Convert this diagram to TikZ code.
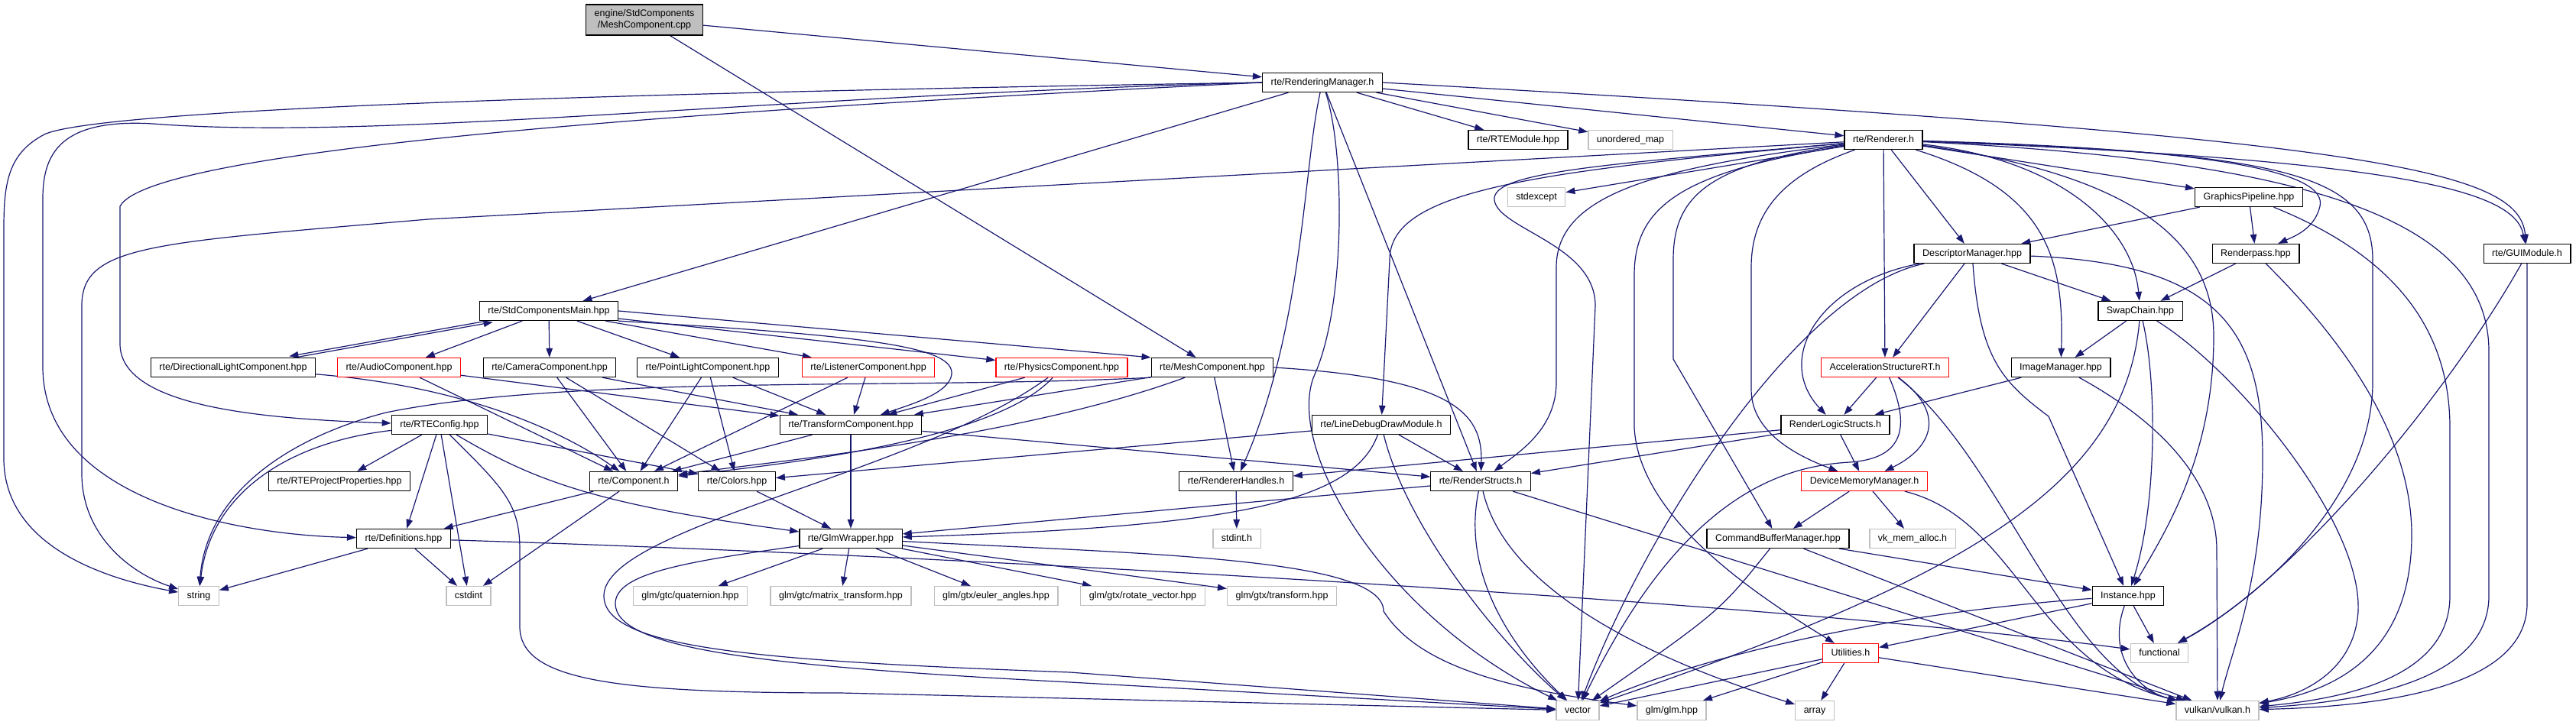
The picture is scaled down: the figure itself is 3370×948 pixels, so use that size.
\documentclass[tikz,border=0pt]{standalone}
\usepackage{fontspec}
\setmainfont{Liberation Sans}
\usepackage{tikz}
\usetikzlibrary{arrows.meta,backgrounds}
\definecolor{depblue}{HTML}{191970}
\definecolor{extgrey}{HTML}{BFBFBF}
\definecolor{cutred}{HTML}{FF0000}
\tikzset{
  filebox/.style={
    draw=black,
    line width=1.3pt,
    fill=white,
    minimum height=25pt,
    inner xsep=11pt,
    inner ysep=0pt,
    text height=9pt,
    text depth=2.5pt,
    font=\fontsize{12.5}{15}\selectfont
  },
  sysbox/.style={filebox, draw=extgrey},
  cutbox/.style={filebox, draw=cutred},
  rootbox/.style={
    draw=black,
    line width=1.3pt,
    fill=extgrey,
    minimum height=40pt,
    inner xsep=11pt,
    inner ysep=2pt,
    align=center,
    font=\fontsize{12.5}{15}\selectfont
  },
  dep/.style={
    -{Triangle[length=12pt,width=8.5pt]},
    line width=1.2pt,
    draw=depblue
  }
}

\begin{document}
\begin{tikzpicture}[x=1pt,y=-1pt]
\useasboundingbox (0,0) rectangle (3370,948);
\node[rootbox] (src) at (843,26) {engine/StdComponents\\/MeshComponent.cpp};
\node[filebox] (rm) at (1730,108) {rte/RenderingManager.h};
\node[filebox] (rtemod) at (1986,183) {rte/RTEModule.hpp};
\node[sysbox] (umap) at (2133,183) {unordered\_map};
\node[filebox] (rend) at (2464,183) {rte/Renderer.h};
\node[sysbox] (stdexc) at (2010,258) {stdexcept};
\node[filebox] (gpipe) at (2942,258) {GraphicsPipeline.hpp};
\node[filebox] (descm) at (2580,332) {DescriptorManager.hpp};
\node[filebox] (rpass) at (2951,332) {Renderpass.hpp};
\node[filebox] (gui) at (3306,332) {rte/GUIModule.h};
\node[filebox] (scm) at (718,407) {rte/StdComponentsMain.hpp};
\node[filebox] (swap) at (2800,407) {SwapChain.hpp};
\node[filebox] (dirlight) at (305,481) {rte/DirectionalLightComponent.hpp};
\node[cutbox] (audio) at (522,481) {rte/AudioComponent.hpp};
\node[filebox] (camera) at (719,481) {rte/CameraComponent.hpp};
\node[filebox] (ptlight) at (926,481) {rte/PointLightComponent.hpp};
\node[cutbox] (listener) at (1136,481) {rte/ListenerComponent.hpp};
\node[cutbox] (physics) at (1389,481) {rte/PhysicsComponent.hpp};
\node[filebox] (mesh) at (1586,481) {rte/MeshComponent.hpp};
\node[cutbox] (asrt) at (2466,481) {AccelerationStructureRT.h};
\node[filebox] (imgm) at (2696,481) {ImageManager.hpp};
\node[filebox] (rtecfg) at (575,556) {rte/RTEConfig.hpp};
\node[filebox] (transf) at (1113,556) {rte/TransformComponent.hpp};
\node[filebox] (lddm) at (1807,556) {rte/LineDebugDrawModule.h};
\node[filebox] (rls) at (2401,556) {RenderLogicStructs.h};
\node[filebox] (rteprops) at (444,630) {rte/RTEProjectProperties.hpp};
\node[filebox] (comp) at (829,630) {rte/Component.h};
\node[filebox] (colors) at (964,630) {rte/Colors.hpp};
\node[filebox] (rhandles) at (1617,630) {rte/RendererHandles.h};
\node[filebox] (rstructs) at (1937,630) {rte/RenderStructs.h};
\node[cutbox] (dmm) at (2439,630) {DeviceMemoryManager.h};
\node[filebox] (defs) at (528,705) {rte/Definitions.hpp};
\node[filebox] (glmw) at (1113,705) {rte/GlmWrapper.hpp};
\node[sysbox] (stdinth) at (1618,705) {stdint.h};
\node[filebox] (cbm) at (2326,705) {CommandBufferManager.hpp};
\node[sysbox] (vma) at (2502,705) {vk\_mem\_alloc.h};
\node[sysbox] (string) at (260,780) {string};
\node[sysbox] (cstdint) at (613,780) {cstdint};
\node[sysbox] (quat) at (903,780) {glm/gtc/quaternion.hpp};
\node[sysbox] (mattr) at (1100,780) {glm/gtc/matrix\_transform.hpp};
\node[sysbox] (euler) at (1303,780) {glm/gtx/euler\_angles.hpp};
\node[sysbox] (rotvec) at (1495,780) {glm/gtx/rotate\_vector.hpp};
\node[sysbox] (gtxtr) at (1677,780) {glm/gtx/transform.hpp};
\node[filebox] (inst) at (2784,780) {Instance.hpp};
\node[cutbox] (utils) at (2421,855) {Utilities.h};
\node[sysbox] (func) at (2825,855) {functional};
\node[sysbox] (vector) at (2064,930) {vector};
\node[sysbox] (glm) at (2187,930) {glm/glm.hpp};
\node[sysbox] (array) at (2374,930) {array};
\node[sysbox] (vulkan) at (2901,930) {vulkan/vulkan.h};

\begin{scope}[on background layer]
\fill[white] (0,0) rectangle (3370,948);
\draw[dep] (src) -- (rm);
\draw[dep] (src) -- (mesh);

\draw[dep] (rm) -- (rtemod);
\draw[dep] (rm) -- (umap);
\draw[dep] (rm) -- (rend);
\draw[dep] (rm) -- (scm);
\draw[dep] (rm) -- (rstructs);
\draw[dep] (rm.east) .. controls (3100,180) and (3295,220) .. (gui);
\draw[dep] (rm.west) .. controls (900,120) and (150,140) .. (60,175) .. controls (10,200) and (5,240) .. (5,300) -- (5,600) .. controls (5,720) and (150,760) .. (string);
\draw[dep] (rm.west) .. controls (1000,125) and (500,185) .. (200,162) .. controls (80,155) and (56,200) .. (56,260) -- (56,480) .. controls (56,650) and (300,700) .. (defs);
\draw[dep] (rm.west) .. controls (1000,140) and (200,190) .. (157,270) -- (157,450) .. controls (157,530) and (330,548) .. (rtecfg);
\draw[dep] (rm) .. controls (1705,220) and (1705,430) .. (rhandles);
\draw[dep] (rm) .. controls (1760,200) and (1760,400) .. (1720,490) .. controls (1680,580) and (1800,800) .. (vector);

\draw[dep] (rend) -- (560,287) .. controls (200,318) and (107,320) .. (107,400) -- (107,620) .. controls (107,700) and (170,750) .. (string);
\draw[dep] (rend) -- (stdexc);
\draw[dep] (rend) .. controls (2000,225) and (1818,250) .. (1818,340) -- (lddm);
\draw[dep] (rend) .. controls (2100,215) and (1950,225) .. (1955,262) .. controls (1960,300) and (2087,320) .. (2087,400) -- (vector);
\draw[dep] (rend) .. controls (2150,220) and (2036,260) .. (2036,350) -- (2036,500) .. controls (2036,560) and (1990,590) .. (rstructs);
\draw[dep] (rend) .. controls (2200,225) and (2138,270) .. (2138,360) -- (2138,560) .. controls (2145,680) and (2300,780) .. (utils);
\draw[dep] (rend) .. controls (2230,215) and (2189,260) .. (2189,340) -- (2189,470) -- (cbm);
\draw[dep] (rend) .. controls (2330,230) and (2291,280) .. (2291,350) -- (2291,510) .. controls (2291,570) and (2360,600) .. (dmm);
\draw[dep] (rend) -- (asrt);
\draw[dep] (rend) -- (descm);
\draw[dep] (rend) .. controls (2680,250) and (2700,340) .. (imgm);
\draw[dep] (rend) .. controls (2700,210) and (2790,300) .. (swap);
\draw[dep] (rend) -- (gpipe);
\draw[dep] (rend) .. controls (2900,195) and (3045,225) .. (3035,270) .. controls (3028,300) and (3000,310) .. (rpass);
\draw[dep] (rend) .. controls (3150,210) and (3290,250) .. (gui);
\draw[dep] (rend) .. controls (2980,200) and (3104,225) .. (3104,340) -- (3104,500) .. controls (3104,650) and (2960,780) .. (func);
\draw[dep] (rend) .. controls (2800,230) and (2896,320) .. (2896,440) .. controls (2896,600) and (2830,700) .. (inst);
\draw[dep] (rend) .. controls (3000,210) and (3256,280) .. (3256,460) -- (3256,780) .. controls (3256,900) and (3060,920) .. (vulkan);

\draw[dep] (gpipe) -- (descm);
\draw[dep] (gpipe) -- (rpass);
\draw[dep] (gpipe) .. controls (3120,330) and (3205,420) .. (3205,560) -- (3205,780) .. controls (3205,890) and (3060,915) .. (vulkan);
\draw[dep] (rpass) -- (swap);
\draw[dep] (rpass) .. controls (3050,430) and (3155,560) .. (3155,700) .. controls (3155,860) and (3050,905) .. (vulkan);
\draw[dep] (gui) .. controls (3200,520) and (3000,760) .. (func);
\draw[dep] (gui) -- (3306,790) .. controls (3306,905) and (3100,925) .. (vulkan);

\draw[dep] (descm) -- (swap);
\draw[dep] (descm) -- (asrt);
\draw[dep] (descm) .. controls (2380,370) and (2320,470) .. (rls);
\draw[dep] (descm) .. controls (2350,380) and (2150,700) .. (vector);
\draw[dep] (descm) .. controls (2590,470) and (2620,500) .. (2680,545) -- (inst);
\draw[dep] (descm) .. controls (2900,345) and (2960,430) .. (2960,600) .. controls (2960,760) and (2920,850) .. (vulkan);

\draw[dep] (swap) -- (imgm);
\draw[dep] (swap) .. controls (2822,500) and (2822,660) .. (inst);
\draw[dep] (swap) .. controls (2780,640) and (2560,760) .. (vector);
\draw[dep] (swap) .. controls (2920,480) and (3090,680) .. (3085,800) .. controls (3080,880) and (3010,910) .. (vulkan);

\draw[dep] (asrt) -- (rls);
\draw[dep] (asrt) .. controls (2545,540) and (2530,585) .. (dmm);
\draw[dep] (asrt) .. controls (2500,560) and (2490,600) .. (2420,605) .. controls (2330,610) and (2200,650) .. (vector);
\draw[dep] (asrt) .. controls (2620,600) and (2700,880) .. (vulkan);
\draw[dep] (imgm) -- (rls);
\draw[dep] (imgm) .. controls (2840,560) and (2900,640) .. (2900,720) -- (vulkan);

\draw[dep] (rls) -- (dmm);
\draw[dep] (rls) -- (rstructs);
\draw[dep] (rls) -- (rhandles);
\draw[dep] (dmm) -- (cbm);
\draw[dep] (dmm) -- (vma);
\draw[dep] (dmm) .. controls (2640,680) and (2660,870) .. (vulkan);
\draw[dep] (cbm) -- (inst);
\draw[dep] (cbm) .. controls (2250,800) .. (vector);
\draw[dep] (cbm) -- (vulkan);

\draw[dep] (inst) -- (utils);
\draw[dep] (inst) .. controls (2500,800) and (2250,850) .. (vector);
\draw[dep] (inst) -- (func);
\draw[dep] (inst) .. controls (2755,860) and (2800,905) .. (vulkan);
\draw[dep] (utils) -- (array);
\draw[dep] (utils) -- (vector);
\draw[dep] (utils) -- (glm);
\draw[dep] (utils) -- (vulkan);

\draw[dep] (rstructs) -- (glmw);
\draw[dep] (rstructs) .. controls (1910,760) and (1990,860) .. (vector);
\draw[dep] (rstructs) .. controls (1970,770) and (2150,860) .. (array);
\draw[dep] (rstructs) -- (vulkan);
\draw[dep] (lddm) -- (colors);
\draw[dep] (lddm) .. controls (1770,660) and (1600,690) .. (glmw);
\draw[dep] (lddm) .. controls (1840,690) and (1960,840) .. (vector);
\draw[dep] (lddm) -- (rstructs);
\draw[dep] (rhandles) -- (stdinth);

\draw[dep] (mesh.east) .. controls (1900,495) and (1940,540) .. (rstructs);
\draw[dep] (mesh) -- (rhandles);
\draw[dep] (mesh) -- (transf);
\draw[dep] (mesh) .. controls (1330,575) and (1000,605) .. (comp);
\draw[dep] (mesh.south west) .. controls (1200,510) and (750,490) .. (505,540) .. controls (370,575) and (270,650) .. (string);
\draw[dep] (physics) -- (transf);
\draw[dep] (physics) .. controls (1300,580) and (1000,610) .. (comp);
\draw[dep] (physics) .. controls (1200,620) and (790,690) .. (790,780) .. controls (790,850) and (1000,865) .. (1400,880) -- (vector);

\draw[dep] (glmw) -- (quat);
\draw[dep] (glmw) -- (mattr);
\draw[dep] (glmw) -- (euler);
\draw[dep] (glmw) -- (rotvec);
\draw[dep] (glmw) -- (gtxtr);
\draw[dep] (glmw) .. controls (1500,725) and (1810,730) .. (1810,800) .. controls (1860,880) and (2000,905) .. (glm);
\draw[dep] (glmw) .. controls (900,735) and (805,750) .. (805,790) .. controls (805,850) and (1000,872) .. (1400,893) -- (vector);
\draw[dep] (colors) -- (glmw);
\draw[dep] (transf) -- (glmw);
\draw[dep] (transf) -- (comp);
\draw[dep] (transf) -- (rstructs);
\draw[dep] (comp) -- (defs);
\draw[dep] (comp) -- (cstdint);
\draw[dep] (defs) -- (string);
\draw[dep] (defs) -- (cstdint);
\draw[dep] (defs) .. controls (1200,725) and (2300,785) .. (func);

\draw[dep] (rtecfg) -- (rteprops);
\draw[dep] (rtecfg) -- (defs);
\draw[dep] (rtecfg) .. controls (370,580) and (275,650) .. (string);
\draw[dep] (rtecfg) -- (cstdint);
\draw[dep] (rtecfg) -- (colors);
\draw[dep] (rtecfg) .. controls (700,630) and (780,660) .. (glmw);
\draw[dep] (rtecfg) .. controls (660,640) and (680,660) .. (680,720) -- (680,820) .. controls (680,890) and (800,907) .. (1100,907) -- (vector);

\draw[dep, transform canvas={yshift=1.5pt}] (scm) -- (dirlight);
\draw[dep, transform canvas={yshift=-1.5pt}] (dirlight) -- (scm);
\draw[dep] (scm) -- (audio);
\draw[dep] (scm) -- (camera);
\draw[dep] (scm) -- (ptlight);
\draw[dep] (scm) -- (listener);
\draw[dep] (scm) -- (physics);
\draw[dep] (scm.east) -- (mesh.north west);
\draw[dep] (scm.south east) .. controls (1150,440) and (1248,455) .. (1245,490) .. controls (1242,515) and (1190,530) .. (transf);

\draw[dep] (dirlight) .. controls (600,505) and (730,560) .. (comp);
\draw[dep] (audio) -- (comp);
\draw[dep] (audio) -- (transf);
\draw[dep] (camera) -- (comp);
\draw[dep] (camera) -- (colors);
\draw[dep] (camera) -- (transf);
\draw[dep] (ptlight) -- (comp);
\draw[dep] (ptlight) -- (colors);
\draw[dep] (ptlight) -- (transf);
\draw[dep] (listener) -- (transf);
\draw[dep] (listener) -- (comp);
\end{scope}
\end{tikzpicture}
\end{document}
